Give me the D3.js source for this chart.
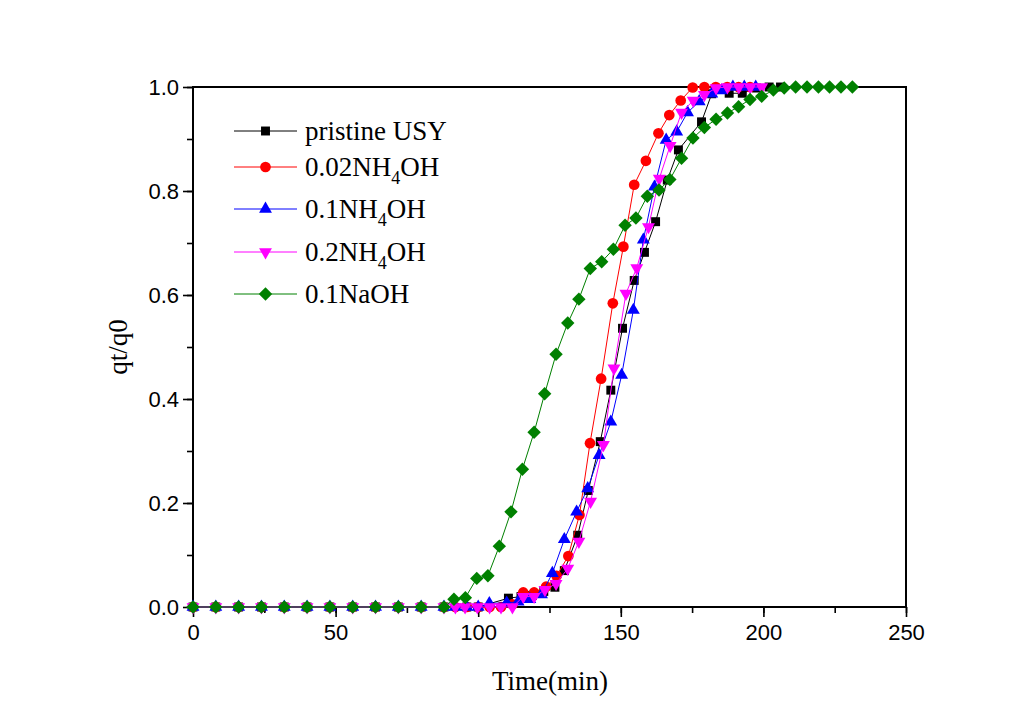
<!DOCTYPE html>
<html>
<head>
<meta charset="utf-8">
<script src="https://cdn.jsdelivr.net/npm/d3@7"></script>
<style>
  html, body { margin: 0; padding: 0; background: #fff; }
  svg { display: block; }
</style>
</head>
<body>
<svg id="chart" width="1036" height="720"></svg>
<script>
// ---------------- data ----------------
const seriesNames = ["pristine USY", "0.02NH4OH", "0.1NH4OH", "0.2NH4OH", "0.1NaOH"];

const timePristine = [0, 8, 16, 24, 32, 40, 48, 56, 64, 72, 80, 88, 96, 100, 110.6, 115, 119, 123, 126.9, 130.2, 134.9, 138.6, 142.8, 146.5, 150.6, 154.7, 158.3, 162.2, 166.3, 170.2, 178.3, 181.9, 188, 192.6, 197.6, 202, 206];
const qPristine    = [0, 0, 0, 0, 0, 0, 0, 0, 0, 0, 0, 0, 0, 0, 0.017, 0.02, 0.022, 0.03, 0.038, 0.07, 0.138, 0.224, 0.318, 0.417, 0.536, 0.628, 0.682, 0.741, 0.821, 0.879, 0.933, 0.987, 0.988, 0.988, 0.998, 1.0, 1.0];

const time002 = [0, 8, 16, 24, 32, 40, 48, 56, 64, 72, 80, 88, 92, 96, 100, 104, 108, 112, 115.8, 119.6, 123.8, 127.5, 131.6, 135.5, 139.2, 143.1, 147.2, 150.9, 154.7, 158.8, 163.2, 167, 171, 175.2, 179.3, 183.3, 187.3, 191.3, 195.3];
const q002    = [0, 0, 0, 0, 0, 0, 0, 0, 0, 0, 0, 0, 0, 0, 0, 0, 0, 0.005, 0.028, 0.028, 0.039, 0.06, 0.098, 0.177, 0.315, 0.439, 0.584, 0.693, 0.812, 0.858, 0.911, 0.946, 0.974, 0.999, 1, 1, 1, 1, 1];

const time01 = [0, 8, 16, 24, 32, 40, 48, 56, 64, 72, 80, 88, 92, 96, 100, 103.9, 110, 114, 118.1, 122.2, 126, 130.2, 134.5, 138.4, 142.4, 146.5, 150.3, 154.4, 157.9, 161.8, 165.9, 169.6, 173.4, 177.5, 181.9, 185.3, 189.3, 193.3, 197.3];
const q01    = [0, 0, 0, 0, 0, 0, 0, 0, 0, 0, 0, 0, 0, 0, 0, 0.007, 0.008, 0.01, 0.015, 0.024, 0.065, 0.13, 0.183, 0.228, 0.292, 0.356, 0.446, 0.571, 0.706, 0.808, 0.898, 0.914, 0.951, 0.972, 0.987, 0.993, 1, 1, 1];

const time02 = [0, 8, 16, 24, 32, 40, 48, 56, 64, 72, 80, 88, 92, 95.4, 99.7, 104, 108, 112, 115.8, 119.6, 123.4, 127.3, 131.4, 135.3, 139.4, 143.9, 147.6, 151.8, 155.6, 159.7, 163.5, 167.3, 171.3, 175.4, 179.3, 183.4, 187.4, 191.4, 195.4, 199.4];
const q02    = [0, 0, 0, 0, 0, 0, 0, 0, 0, 0, 0, 0, 0, 0, 0, 0, 0, 0, 0.02, 0.02, 0.033, 0.045, 0.074, 0.126, 0.203, 0.312, 0.459, 0.603, 0.652, 0.731, 0.824, 0.887, 0.951, 0.974, 0.985, 0.998, 1, 1, 1, 1];

const timeNaOH = [0, 8, 16, 24, 32, 40, 48, 56, 64, 72, 80, 88, 91.5, 95.5, 99.5, 103.4, 107.4, 111.5, 115.5, 119.6, 123.3, 127.3, 131.4, 135.3, 139.3, 143.3, 147.4, 151.5, 155.3, 159.3, 163.4, 167.2, 171.3, 175.3, 179.3, 183.4, 187.4, 191.3, 195.3, 199.4, 203.5, 207.3, 211.3, 215.3, 219.3, 223.2, 227.2, 231.2];
const qNaOH    = [0, 0, 0, 0, 0, 0, 0, 0, 0, 0, 0, 0, 0.015, 0.018, 0.055, 0.06, 0.117, 0.183, 0.265, 0.336, 0.41, 0.486, 0.546, 0.592, 0.651, 0.664, 0.688, 0.734, 0.748, 0.79, 0.802, 0.822, 0.863, 0.902, 0.922, 0.938, 0.95, 0.962, 0.976, 0.982, 0.994, 0.998, 1, 1, 1, 1, 1, 1];

const xTicks = [0, 50, 100, 150, 200, 250];
const yTicks = [0.0, 0.2, 0.4, 0.6, 0.8, 1.0];

// ---------------- styling ----------------
const colors  = ["#000000", "#ff0000", "#0000ff", "#ff00ff", "#008000"];
const shapes  = ["square", "circle", "triangle", "invtriangle", "diamond"];
const series = [
  { name: seriesNames[0], t: timePristine, q: qPristine },
  { name: seriesNames[1], t: time002, q: q002 },
  { name: seriesNames[2], t: time01, q: q01 },
  { name: seriesNames[3], t: time02, q: q02 },
  { name: seriesNames[4], t: timeNaOH, q: qNaOH }
].map((s, i) => ({ ...s, color: colors[i], shape: shapes[i],
   pts: s.t.map((t, j) => ({ t, q: s.q[j] })) }));

const svg = d3.select("#chart");
const L = 193, R = 906, T = 87, B = 607;
const x = d3.scaleLinear().domain([0, 250]).range([L, R]);
const y = d3.scaleLinear().domain([0, 1]).range([B, T]);

function symbolPath(shape) {
  switch (shape) {
    case "square": return d3.symbol(d3.symbolSquare, 80)();
    case "circle": return d3.symbol(d3.symbolCircle, 90)();
    case "triangle": return d3.symbol(d3.symbolTriangle, 72)();
    case "invtriangle": return d3.symbol(d3.symbolTriangle, 72)();
    case "diamond": return d3.symbol(d3.symbolSquare, 90)();
  }
}
function symbolRot(shape) {
  if (shape === "invtriangle") return " rotate(180)";
  if (shape === "diamond") return " rotate(45)";
  return "";
}

// ---------------- axes ----------------
const serif = "'Liberation Serif', 'Times New Roman', serif";
const sans = "'Liberation Sans', Arial, sans-serif";

const xMinor = d3.range(0, 251, 25);
const yMinor = d3.range(0, 1.0001, 0.1);

const xAxis = d3.axisBottom(x).tickValues(xTicks).tickFormat(d3.format("d")).tickSizeInner(10).tickSizeOuter(0).tickPadding(7);
const yAxis = d3.axisLeft(y).tickValues(yTicks).tickFormat(d3.format(".1f")).tickSizeInner(10).tickSizeOuter(0).tickPadding(4);

const gx = svg.append("g").attr("transform", `translate(0,${B})`).call(xAxis);
const gy = svg.append("g").attr("transform", `translate(${L},0)`).call(yAxis);
[gx, gy].forEach(g => {
  g.select(".domain").remove();
  g.selectAll(".tick line").attr("stroke", "#000").attr("stroke-width", 1.6);
  g.selectAll(".tick text").attr("font-family", sans).attr("font-size", 22).attr("fill", "#000");
});

svg.append("g").attr("transform", `translate(0,${B})`)
  .call(d3.axisBottom(x).tickValues(xMinor).tickFormat("").tickSizeInner(6).tickSizeOuter(0))
  .call(g => g.select(".domain").remove())
  .selectAll("line").attr("stroke", "#000").attr("stroke-width", 1.6);
svg.append("g").attr("transform", `translate(${L},0)`)
  .call(d3.axisLeft(y).tickValues(yMinor).tickFormat("").tickSizeInner(6).tickSizeOuter(0))
  .call(g => g.select(".domain").remove())
  .selectAll("line").attr("stroke", "#000").attr("stroke-width", 1.6);

// frame
svg.append("rect").attr("x", L).attr("y", T).attr("width", R - L).attr("height", B - T)
  .attr("fill", "none").attr("stroke", "#000").attr("stroke-width", 2);

// axis titles
svg.append("text").attr("x", 550).attr("y", 690).attr("text-anchor", "middle")
  .attr("font-family", serif).attr("font-size", 27).text("Time(min)");
svg.append("text").attr("transform", `translate(127,${(T + B) / 2}) rotate(-90)`)
  .attr("text-anchor", "middle").attr("font-family", serif).attr("font-size", 27).text("qt/q0");

// ---------------- series ----------------
const line = d3.line().x(d => x(d.t)).y(d => y(d.q));
const plot = svg.append("g");
series.forEach(s => {
  const g = plot.append("g");
  g.append("path").datum(s.pts).attr("d", line).attr("fill", "none")
    .attr("stroke", s.color).attr("stroke-width", 1);
  g.selectAll("path.m").data(s.pts).join("path").attr("class", "m")
    .attr("d", symbolPath(s.shape))
    .attr("transform", d => `translate(${x(d.t)},${y(d.q)})${symbolRot(s.shape)}`)
    .attr("fill", s.color);
});

// ---------------- legend ----------------
const legendRows = [131, 167, 209, 252, 294];
const leg = svg.append("g");
series.forEach((s, i) => {
  const yy = legendRows[i];
  leg.append("line").attr("x1", 234).attr("x2", 297).attr("y1", yy).attr("y2", yy)
    .attr("stroke", s.color).attr("stroke-width", 1);
  leg.append("path").attr("d", symbolPath(s.shape))
    .attr("transform", `translate(265.5,${yy})${symbolRot(s.shape)}`).attr("fill", s.color);
  const txt = leg.append("text").attr("x", 305).attr("y", yy + 9)
    .attr("font-family", serif).attr("font-size", 27).attr("fill", "#000");
  const m = s.name.match(/^(.*NH)(4)(OH)$/);
  if (m) {
    txt.append("tspan").text(m[1]);
    txt.append("tspan").attr("font-size", 18).attr("dy", 8).text(m[2]);
    txt.append("tspan").attr("dy", -8).text(m[3]);
  } else {
    txt.text(s.name);
  }
});
</script>
</body>
</html>
